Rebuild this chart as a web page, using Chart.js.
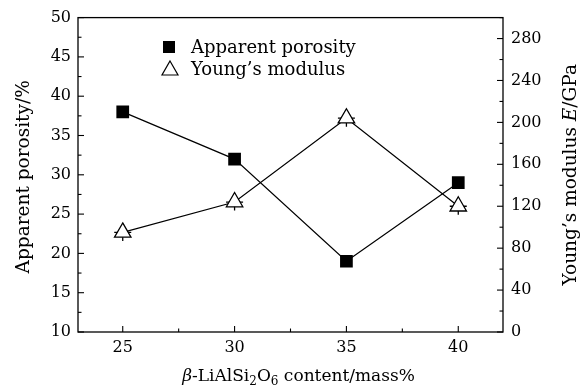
<!DOCTYPE html>
<html>
<head>
<meta charset="utf-8">
<script src="https://cdn.jsdelivr.net/npm/chart.js@4.4.1/dist/chart.umd.min.js"></script>
<style>
  html, body { margin: 0; padding: 0; background: #fff; }
  #wrap { width: 586px; height: 389px; }
</style>
</head>
<body>
<div id="wrap"><canvas id="chart" width="586" height="389"></canvas></div>
<script>
// values
const contents = [25, 30, 35, 40]
const porosity = [38, 32, 19, 29]
const modulus = [95, 124, 204, 120]

// tick labels
const xTicks = [25, 30, 35, 40]
const leftTicks = [10, 15, 20, 25, 30, 35, 40, 45, 50]
const rightTicks = [0, 40, 80, 120, 160, 200, 240, 280]

const SERIF = "'DejaVu Serif', 'Liberation Serif', serif"

// majors plus a minor tick halfway between (and past the last one up to max)
function withMinors(major, max) {
  const step = major[1] - major[0]
  const out = []
  major.forEach((v) => {
    out.push({ value: v, major: true })
    if (v + step / 2 <= max) out.push({ value: v + step / 2, major: false })
  })
  return out
}

const frame = {
  id: "frame",
  afterDraw(chart) {
    const ctx = chart.ctx
    const a = chart.chartArea
    ctx.save()
    ctx.strokeStyle = "#000"
    ctx.lineWidth = 1.3
    ctx.strokeRect(a.left, a.top, a.right - a.left, a.bottom - a.top)

    // inward tick marks
    ctx.lineWidth = 1.1
    const sx = chart.scales.x
    sx.ticks.forEach((t) => {
      const p = sx.getPixelForValue(t.value)
      const len = t.major ? 6 : 3.5
      ctx.beginPath()
      ctx.moveTo(p, a.bottom)
      ctx.lineTo(p, a.bottom - len)
      ctx.stroke()
    })
    ;["y", "y1"].forEach((id) => {
      const s = chart.scales[id]
      s.ticks.forEach((t) => {
        const p = s.getPixelForValue(t.value)
        const len = t.major ? 6 : 3.5
        const x0 = id === "y" ? a.left : a.right
        const dir = id === "y" ? 1 : -1
        ctx.beginPath()
        ctx.moveTo(x0, p)
        ctx.lineTo(x0 + dir * len, p)
        ctx.stroke()
      })
    })

    // legend
    ctx.fillStyle = "#000"
    ctx.fillRect(163, 41, 12, 12)
    ctx.beginPath()
    ctx.moveTo(170, 61)
    ctx.lineTo(178, 75)
    ctx.lineTo(162, 75)
    ctx.closePath()
    ctx.lineWidth = 1.2
    ctx.stroke()
    ctx.font = "18px " + SERIF
    ctx.textBaseline = "middle"
    ctx.textAlign = "left"
    ctx.fillText("Apparent porosity", 191, 48)
    ctx.fillText("Young\u2019s modulus", 191, 70)

    // axis titles
    drawRich(ctx, [
      { t: "\u03b2", it: true }, { t: "-LiAlSi" }, { t: "2", sub: true },
      { t: "O" }, { t: "6", sub: true }, { t: " content/mass%" }
    ], (a.left + a.right) / 2 + 8, 377, 0, 17)
    drawRich(ctx, [{ t: "Apparent porosity/%" }], 24, (a.top + a.bottom) / 2 + 2, -Math.PI / 2, 18.5)
    drawRich(ctx, [
      { t: "Young\u2019s modulus " }, { t: "E", it: true }, { t: "/GPa" }
    ], 571, (a.top + a.bottom) / 2, -Math.PI / 2, 18.5)
    ctx.restore()
  }
}

function drawRich(ctx, parts, cx, cy, rot, size) {
  const fontOf = (p) => (p.it ? "italic " : "") + (p.sub ? Math.round(size * 0.7) : size) + "px " + SERIF
  let total = 0
  parts.forEach((p) => {
    ctx.font = fontOf(p)
    p.w = ctx.measureText(p.t).width
    total += p.w
  })
  ctx.save()
  ctx.translate(cx, cy)
  ctx.rotate(rot)
  ctx.textBaseline = "middle"
  ctx.textAlign = "left"
  ctx.fillStyle = "#000"
  let x = -total / 2
  parts.forEach((p) => {
    ctx.font = fontOf(p)
    ctx.fillText(p.t, x, p.sub ? 5 : 0)
    x += p.w
  })
  ctx.restore()
}

const tickFont = { family: SERIF, size: 16 }

new Chart(document.getElementById("chart"), {
  type: "line",
  data: {
    datasets: [
      {
        label: "Apparent porosity",
        data: contents.map((c, i) => ({ x: c, y: porosity[i] })),
        yAxisID: "y",
        borderColor: "#000",
        borderWidth: 1.2,
        pointStyle: "rect",
        pointRadius: 9,
        pointBackgroundColor: "#000",
        pointBorderColor: "#000",
        pointBorderWidth: 0,
        tension: 0,
      },
      {
        label: "Young's modulus",
        data: contents.map((c, i) => ({ x: c, y: modulus[i] })),
        yAxisID: "y1",
        borderColor: "#000",
        borderWidth: 1.2,
        pointStyle: "triangle",
        pointRadius: 9.5,
        pointBackgroundColor: "#fff",
        pointBorderColor: "#000",
        pointBorderWidth: 1.3,
        tension: 0,
      },
      {
        label: "modulus bars",
        data: contents.map((c, i) => ({ x: c, y: modulus[i] })),
        yAxisID: "y1",
        showLine: false,
        pointStyle: "cross",
        pointRadius: 8.5,
        pointBorderColor: "#000",
        pointBorderWidth: 1.3,
      },
    ],
  },
  options: {
    responsive: false,
    animation: false,
    events: [],
    layout: { padding: { top: 15, left: 0, right: 0, bottom: 0 } },
    plugins: {
      legend: { display: false },
      tooltip: { enabled: false },
    },
    scales: {
      x: {
        type: "linear",
        min: 23,
        max: 42,
        afterBuildTicks: (s) => { s.ticks = withMinors(xTicks, 42) },
        afterFit: (s) => { s.height = 57 },
        grid: { display: false, drawTicks: false },
        border: { display: false },
        ticks: {
          color: "#000",
          font: tickFont,
          padding: 6,
          maxRotation: 0,
          autoSkip: false,
          callback: (v) => (xTicks.includes(v) ? String(v) : ""),
        },
      },
      y: {
        type: "linear",
        position: "left",
        min: 10,
        max: 50,
        afterBuildTicks: (s) => { s.ticks = withMinors(leftTicks, 50) },
        afterFit: (s) => { s.width = 78 },
        grid: { display: false, drawTicks: false },
        border: { display: false },
        ticks: {
          color: "#000",
          font: tickFont,
          padding: 7,
          autoSkip: false,
          callback: (v) => (leftTicks.includes(v) ? String(v) : ""),
        },
      },
      y1: {
        type: "linear",
        position: "right",
        min: 0,
        max: 300,
        afterBuildTicks: (s) => { s.ticks = withMinors(rightTicks, 300) },
        afterFit: (s) => { s.width = 83 },
        grid: { display: false, drawTicks: false },
        border: { display: false },
        ticks: {
          color: "#000",
          font: tickFont,
          padding: 8,
          autoSkip: false,
          callback: (v) => (rightTicks.includes(v) ? String(v) : ""),
        },
      },
    },
  },
  plugins: [frame],
})
</script>
</body>
</html>
